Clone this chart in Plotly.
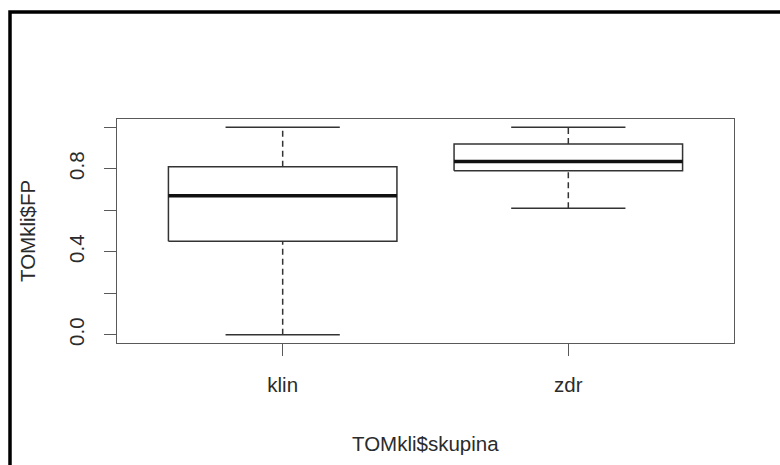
import plotly.graph_objects as go

# ---- data ----
groups = ["klin", "zdr"]
positions = [1, 2]
lower_whisker = [0.00, 0.61]
q1 = [0.45, 0.79]
median = [0.67, 0.835]
q3 = [0.81, 0.92]
upper_whisker = [1.00, 1.00]

y_tickvals = [0.0, 0.2, 0.4, 0.6, 0.8, 1.0]
y_ticktext = ["0.0", "", "0.4", "", "0.8", ""]

x_title = "TOMkli$skupina"
y_title = "TOMkli$FP"

# ---- styling ----
BOX_HALF = 0.4
CAP_HALF = 0.2
LINE = "#333333"
AXIS = "#595959"
TEXT = "#2b2b2b"
FONT = "Liberation Sans, Arial, sans-serif"
FS = 20.5

W, H = 780, 465
L, R, T, B = 117, 46, 119, 122
pw, ph = W - L - R, H - T - B

fig = go.Figure()
for g, p, lo, a, m, b, hi in zip(groups, positions, lower_whisker, q1, median, q3, upper_whisker):
    # box
    fig.add_trace(go.Scatter(
        x=[p - BOX_HALF, p + BOX_HALF, p + BOX_HALF, p - BOX_HALF, p - BOX_HALF],
        y=[a, a, b, b, a], mode="lines",
        line=dict(color=LINE, width=1.5), showlegend=False, hoverinfo="skip"))
    # whiskers (dashed)
    fig.add_trace(go.Scatter(
        x=[p, p, None, p, p], y=[lo, a, None, b, hi], mode="lines",
        line=dict(color=LINE, width=1.5, dash="6px,4px"), showlegend=False, hoverinfo="skip"))
    # staples
    fig.add_trace(go.Scatter(
        x=[p - CAP_HALF, p + CAP_HALF, None, p - CAP_HALF, p + CAP_HALF],
        y=[lo, lo, None, hi, hi], mode="lines",
        line=dict(color=LINE, width=1.5), showlegend=False, hoverinfo="skip"))
    # median
    fig.add_trace(go.Scatter(
        x=[p - BOX_HALF, p + BOX_HALF], y=[m, m], mode="lines",
        line=dict(color="#111111", width=3.5), showlegend=False, name=g))

fig.update_layout(
    width=W, height=H,
    margin=dict(l=L, r=R, t=T, b=B),
    paper_bgcolor="white", plot_bgcolor="white",
    font=dict(family=FONT, size=FS, color=TEXT),
    showlegend=False,
)
fig.update_xaxes(
    range=[0.42, 2.58], tickvals=positions, ticktext=groups,
    showgrid=False, zeroline=False,
    showline=True, mirror=True, linecolor=AXIS, linewidth=1.4,
    ticks="outside", ticklen=12, tickcolor=AXIS, tickwidth=1.4,
    ticklabelstandoff=11,
)
fig.update_yaxes(
    range=[-0.04, 1.04], tickvals=y_tickvals, ticktext=y_ticktext,
    tickangle=-90,
    showgrid=False, zeroline=False,
    showline=True, mirror=True, linecolor=AXIS, linewidth=1.4,
    ticks="outside", ticklen=12, tickcolor=AXIS, tickwidth=1.4,
    ticklabelstandoff=12,
)

# axis titles placed like R's mtext
fig.add_annotation(text=x_title, xref="paper", yref="paper",
                   x=0.5, y=((H - B) - 443) / ph,
                   xanchor="center", yanchor="middle", showarrow=False,
                   font=dict(family=FONT, size=FS, color=TEXT))
fig.add_annotation(text=y_title, xref="paper", yref="paper",
                   x=(27 - L) / pw, y=0.5, textangle=-90,
                   xanchor="center", yanchor="middle", showarrow=False,
                   font=dict(family=FONT, size=FS, color=TEXT))

# outer black frame (image border)
fig.add_shape(type="rect", xref="paper", yref="paper",
              x0=(10 - L) / pw, x1=(W + 20 - L) / pw,
              y0=-(H + 20 - (H - B)) / ph, y1=1 + (T - 12) / ph,
              line=dict(color="black", width=3.5), layer="above")

fig.write_html("out.html")
